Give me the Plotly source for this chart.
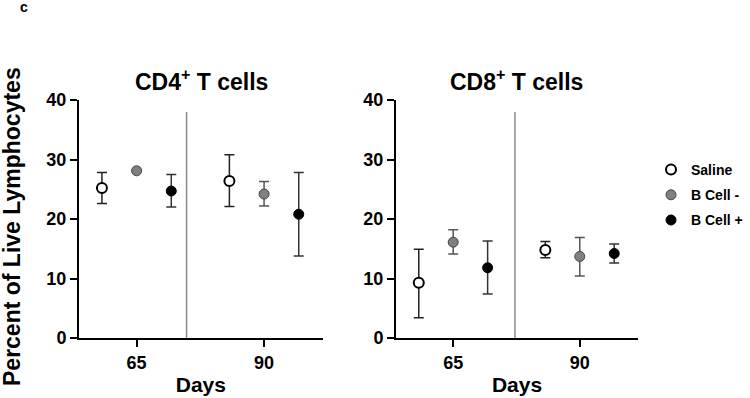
import plotly.graph_objects as go

# ---------------- data ----------------
days = [65, 90]
series_names = ["Saline", "B Cell -", "B Cell +"]

# CD4+ T cells (mean, upper, lower)
cd4_saline_mean = [25.2, 26.4]
cd4_saline_hi = [27.8, 30.8]
cd4_saline_lo = [22.6, 22.1]
cd4_bneg_mean = [28.1, 24.2]
cd4_bneg_hi = [28.1, 26.3]
cd4_bneg_lo = [28.1, 22.2]
cd4_bpos_mean = [24.7, 20.8]
cd4_bpos_hi = [27.5, 27.8]
cd4_bpos_lo = [22.0, 13.8]

# CD8+ T cells
cd8_saline_mean = [9.3, 14.8]
cd8_saline_hi = [14.9, 16.2]
cd8_saline_lo = [3.4, 13.5]
cd8_bneg_mean = [16.1, 13.7]
cd8_bneg_hi = [18.2, 16.9]
cd8_bneg_lo = [14.1, 10.4]
cd8_bpos_mean = [11.8, 14.2]
cd8_bpos_hi = [16.3, 15.8]
cd8_bpos_lo = [7.4, 12.6]

divider_days = [74.8, 77.2]   # vertical separators (left, right panel)
divider_top = 38

panel_titles = ["CD4<sup>+</sup> T cells", "CD8<sup>+</sup> T cells"]
y_ticks = [0, 10, 20, 30, 40]
x_ticks = [65, 90]

# ---------------- style ----------------
FONT = "Liberation Sans, Arial, Helvetica, sans-serif"
offsets = [-6.8, 0.0, 6.8]
marker_styles = [
    dict(color="white", line=dict(color="black", width=2)),
    dict(color="#808080", line=dict(color="#444444", width=1)),
    dict(color="black", line=dict(color="black", width=1)),
]
err_colors = ["#222222", "#555555", "#333333"]

panels = [
    [(cd4_saline_mean, cd4_saline_hi, cd4_saline_lo),
     (cd4_bneg_mean, cd4_bneg_hi, cd4_bneg_lo),
     (cd4_bpos_mean, cd4_bpos_hi, cd4_bpos_lo)],
    [(cd8_saline_mean, cd8_saline_hi, cd8_saline_lo),
     (cd8_bneg_mean, cd8_bneg_hi, cd8_bneg_lo),
     (cd8_bpos_mean, cd8_bpos_hi, cd8_bpos_lo)],
]

W, H = 750, 398
fig = go.Figure()

for p, panel in enumerate(panels):
    xa = "x" if p == 0 else "x2"
    ya = "y" if p == 0 else "y2"
    for s, (mean, hi, lo) in enumerate(panel):
        fig.add_trace(go.Scatter(
            x=[d + offsets[s] for d in days],
            y=mean,
            mode="markers",
            name=series_names[s],
            legendgroup=series_names[s],
            showlegend=(p == 0),
            xaxis=xa, yaxis=ya,
            marker=dict(size=10, symbol="circle", **marker_styles[s]),
            error_y=dict(
                type="data", symmetric=False,
                array=[h - m for h, m in zip(hi, mean)],
                arrayminus=[m - l for m, l in zip(mean, lo)],
                color=err_colors[s], thickness=1.5, width=5,
            ),
        ))
    fig.add_shape(type="line", xref=xa, yref=ya,
                  x0=divider_days[p], x1=divider_days[p], y0=0, y1=divider_top,
                  line=dict(color="#8a8a8a", width=1.5), layer="below")

axis_common = dict(
    showgrid=False, zeroline=False, showline=True, linecolor="black", linewidth=2,
    ticks="outside", ticklen=7, tickwidth=2, tickcolor="black", automargin=False,
    tickfont=dict(family=FONT, size=18, color="black", weight="bold"),
)
xtitle = dict(text="Days", standoff=6,
              font=dict(family=FONT, size=21, color="black", weight="bold"))

ydom = [1 - 338 / H, 1 - 100 / H]
fig.update_layout(
    width=W, height=H,
    template="none",
    margin=dict(l=0, r=0, t=0, b=0, autoexpand=False),
    paper_bgcolor="white", plot_bgcolor="white",
    font=dict(family=FONT, color="black"),
    xaxis=dict(domain=[79 / W, 322.7 / W], range=[53.7, 101.5],
               tickvals=x_ticks, anchor="y", title=xtitle, **axis_common),
    yaxis=dict(domain=ydom, range=[0, 40], tickvals=y_ticks, anchor="x", **axis_common),
    xaxis2=dict(domain=[396 / W, 638 / W], range=[53.7, 101.5],
                tickvals=x_ticks, anchor="y2", title=xtitle, **axis_common),
    yaxis2=dict(domain=ydom, range=[0, 40], tickvals=y_ticks, anchor="x2", **axis_common),
    legend=dict(x=651 / W, y=1 - 154 / H, xanchor="left", yanchor="top",
                font=dict(family=FONT, size=14, color="black", weight="bold"),
                tracegroupgap=4, bgcolor="rgba(0,0,0,0)", borderwidth=0),
    showlegend=True,
)

annotations = [
    dict(text=panel_titles[0], x=201.7 / W, y=1 - 80 / H),
    dict(text=panel_titles[1], x=516.7 / W, y=1 - 80 / H),
]
for a in annotations:
    fig.add_annotation(xref="paper", yref="paper", xanchor="center", yanchor="middle",
                       showarrow=False,
                       font=dict(family=FONT, size=23, color="black", weight="bold"), **a)

fig.add_annotation(text="Percent of Live Lymphocytes", xref="paper", yref="paper",
                   x=12 / W, y=1 - 227 / H, xanchor="center", yanchor="middle",
                   textangle=-90, showarrow=False,
                   font=dict(family=FONT, size=23, color="black", weight="bold"))
fig.add_annotation(text="c", xref="paper", yref="paper",
                   x=24 / W, y=1 - 7 / H, xanchor="center", yanchor="middle",
                   showarrow=False,
                   font=dict(family=FONT, size=14, color="black", weight="bold"))

fig.write_html("out.html",
               config={"displayModeBar": False},
               post_script="document.body.style.margin='0px';document.body.style.overflow='hidden';")
